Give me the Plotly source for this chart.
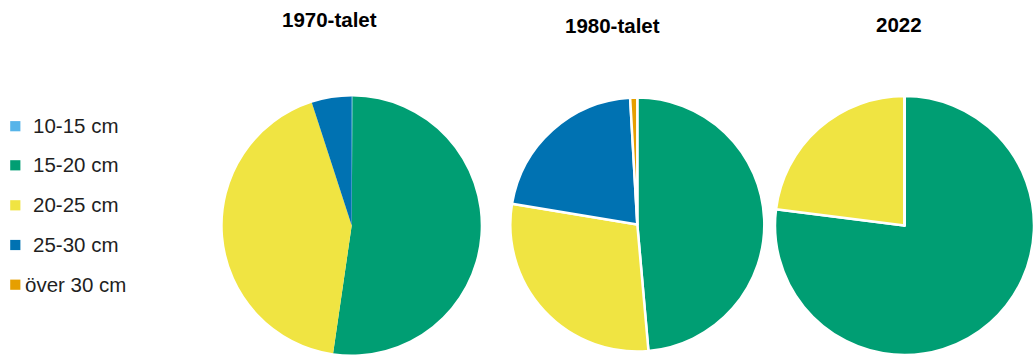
import plotly.graph_objects as go

# Size classes and their colours
categories = ["10-15 cm", "15-20 cm", "20-25 cm", "25-30 cm", "över 30 cm"]
colors = ["#56B4E9", "#009E73", "#F0E442", "#0072B2", "#E69F00"]

# Share of catch per size class (%), one list per period
periods = ["1970-talet", "1980-talet", "2022"]
share_1970 = [0.1, 52.2, 42.7, 5.0, 0.0]
share_1980 = [0.0, 48.6, 29.0, 21.5, 0.9]
share_2022 = [0.0, 77.0, 23.0, 0.0, 0.0]

W, H = 1034, 355
FONT = "Liberation Sans, Arial, sans-serif"


def px_domain(x0, x1, top, bottom):
    """Convert a pixel box into a paper-relative domain."""
    return dict(x=[x0 / W, x1 / W], y=[1 - bottom / H, 1 - top / H])


pie_boxes = [
    px_domain(222.7, 480.7, 96.5, 354.5),
    px_domain(510.3, 764.3, 97.5, 351.5),
    px_domain(775.0, 1034.0, 96.0, 355.0),
]
borders = [0, 2.5, 2.5]
title_pos = [(329.7, 19.0), (612.9, 25.0), (898.8, 24.5)]

fig = go.Figure()
for name, values, box, bw in zip(periods, [share_1970, share_1980, share_2022], pie_boxes, borders):
    fig.add_trace(go.Pie(
        name=name,
        labels=categories,
        values=values,
        sort=False,
        direction="clockwise",
        rotation=0,
        textinfo="none",
        hovertemplate="%{label}: %{value}%<extra>" + name + "</extra>",
        marker=dict(colors=colors, line=dict(color="white", width=bw)),
        domain=box,
        showlegend=False,
    ))

annotations = []
for name, (cx, cy) in zip(periods, title_pos):
    annotations.append(dict(
        text="<b>" + name + "</b>", xref="paper", yref="paper",
        x=cx / W, y=1 - cy / H, xanchor="center", yanchor="middle",
        showarrow=False, font=dict(family=FONT, size=20.5, color="#000000"),
    ))

# Legend drawn as coloured squares with centred labels
shapes = []
row_y = [126.2, 165.3, 205.3, 245.0, 284.7]
for label, col, y in zip(categories, colors, row_y):
    shapes.append(dict(
        type="rect", xref="paper", yref="paper",
        x0=10.2 / W, x1=20.4 / W, y0=1 - (y + 5.1) / H, y1=1 - (y - 5.1) / H,
        fillcolor=col, line=dict(width=0),
    ))
    annotations.append(dict(
        text=label, xref="paper", yref="paper",
        x=75.5 / W, y=1 - (y - 0.5) / H, xanchor="center", yanchor="middle",
        showarrow=False, font=dict(family=FONT, size=20.5, color="#1f1f1f"),
    ))

fig.update_layout(
    width=W, height=H,
    margin=dict(l=0, r=0, t=0, b=0),
    paper_bgcolor="white",
    plot_bgcolor="white",
    annotations=annotations,
    shapes=shapes,
    showlegend=False,
)

fig.write_html("out.html")
